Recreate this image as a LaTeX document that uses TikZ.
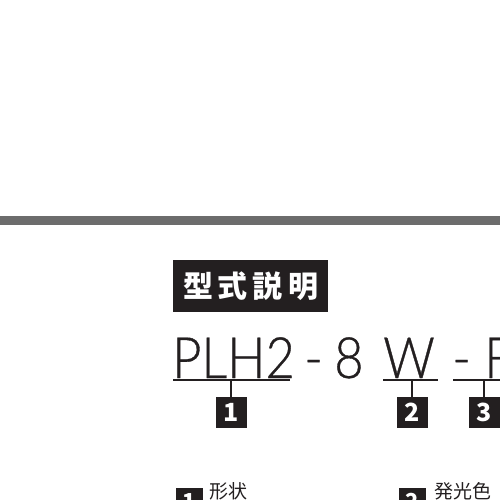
\documentclass[tikz,border=0pt]{standalone}
\usepackage{fontspec}
\usepackage{tikz}
\usetikzlibrary{positioning}
\newfontfamily\jpfont{Noto Sans CJK JP}
\newfontfamily\thinfont{Lato}[UprightFont=* Light, FakeStretch=0.89, FakeBold=0.6]
\definecolor{barGray}{RGB}{108,108,108}
\definecolor{boxBlack}{RGB}{35,31,32}
\definecolor{lineGray}{RGB}{35,31,32}

\begin{document}
\begin{tikzpicture}[
  x=1pt, y=-1pt,
  titlebox/.style={rectangle, fill=boxBlack, text=white, minimum width=155pt, minimum height=52pt, inner sep=0pt,
    font=\jpfont\bfseries\fontsize{30}{30}\selectfont},
  numbox/.style={rectangle, fill=boxBlack, text=white, minimum size=31pt, inner sep=0pt,
    font=\jpfont\bfseries\fontsize{25}{25}\selectfont},
  smallbox/.style={numbox, minimum size=27pt, font=\jpfont\bfseries\fontsize{22}{22}\selectfont},
  code/.style={anchor=base west, inner sep=0pt, text=lineGray, font=\thinfont\fontsize{57}{57}\selectfont},
  caption/.style={anchor=west, inner sep=0pt, text=lineGray, font=\jpfont\fontsize{19}{19}\selectfont},
  uline/.style={draw=lineGray, line width=1.6pt}]

  \useasboundingbox (0,0) rectangle (500,500);
  \clip (0,0) rectangle (500,500);

  % header bar and title
  \fill[barGray] (0,216) rectangle (500,225);
  \node[titlebox] (title) at (250.5,286) {型\,式\,説\,明};

  % model code
  \node[code] (plh)   at (172,378) {PLH2};
  \node[code] (dashA) at (304,378) {-};
  \node[code] (eight) at (334,378) {8};
  \node[code] (w)     at (383,378) {W};
  \node[code] (dashB) at (452,378) {-};
  \node[code] (f)     at (484,378) {F};

  % underlines with their ticks
  \coordinate (u1a) at (173,380); \coordinate (u1b) at (290,380);
  \coordinate (u2a) at (383,380); \coordinate (u2b) at (438,380);
  \coordinate (u3a) at (453,380); \coordinate (u3b) at (505,380);
  \draw[uline] (u1a) -- (u1b);
  \draw[uline] (u2a) -- (u2b);
  \draw[uline] (u3a) -- (u3b);

  \node[numbox] (n1) at (231,412.5) {1};
  \node[numbox] (n2) at (412,412.5) {2};
  \node[numbox] (n3) at (484,412.5) {3};
  \draw[uline] (231,380) -- (n1.north);
  \draw[uline] (412,380) -- (n2.north);
  \draw[uline] (484,380) -- (n3.north);

  % legend
  \node[smallbox] (b1) at (189.5,501.5) {1};
  \node[caption] (c1) at (209,491) {形状};
  \node[smallbox] (b2) at (412,501.5) {2};
  \node[caption] (c2) at (434,491) {発光色};
\end{tikzpicture}
\end{document}
